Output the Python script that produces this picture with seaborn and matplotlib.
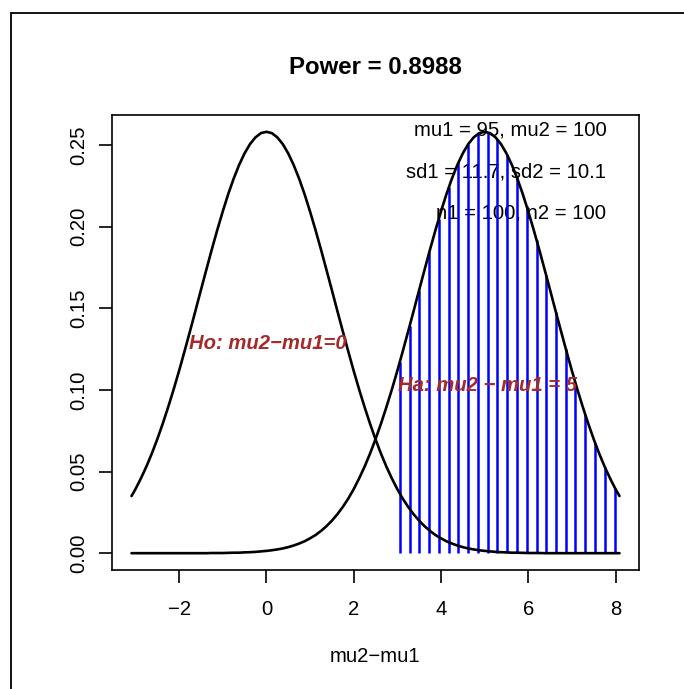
import matplotlib
matplotlib.use('Agg')
import matplotlib.pyplot as plt
import pandas as pd
import seaborn as sns
from matplotlib.patches import Rectangle

# Values: the two density curves on a 0.125 grid
x_grid = [-3.09, -3.0, -2.875, -2.75, -2.625, -2.5, -2.375, -2.25, -2.125, -2.0, -1.875, -1.75,
          -1.625, -1.5, -1.375, -1.25, -1.125, -1.0, -0.875, -0.75, -0.625, -0.5, -0.375, -0.25,
          -0.125, 0.0, 0.125, 0.25, 0.375, 0.5, 0.625, 0.75, 0.875, 1.0, 1.125, 1.25, 1.375, 1.5,
          1.625, 1.75, 1.875, 2.0, 2.125, 2.25, 2.375, 2.5, 2.625, 2.75, 2.875, 3.0, 3.125, 3.25,
          3.375, 3.5, 3.625, 3.75, 3.875, 4.0, 4.125, 4.25, 4.375, 4.5, 4.625, 4.75, 4.875, 5.0,
          5.125, 5.25, 5.375, 5.5, 5.625, 5.75, 5.875, 6.0, 6.125, 6.25, 6.375, 6.5, 6.625, 6.75,
          6.875, 7.0, 7.125, 7.25, 7.375, 7.5, 7.625, 7.75, 7.875, 8.0, 8.09]
null_density = [0.0350, 0.0392, 0.0458, 0.0530, 0.0610, 0.0698, 0.0793, 0.0895, 0.1003, 0.1117,
                0.1237, 0.1360, 0.1485, 0.1612, 0.1737, 0.1861, 0.1980, 0.2093, 0.2199, 0.2294,
                0.2378, 0.2449, 0.2506, 0.2547, 0.2573, 0.2581, 0.2573, 0.2547, 0.2506, 0.2449,
                0.2378, 0.2294, 0.2199, 0.2093, 0.1980, 0.1861, 0.1737, 0.1612, 0.1485, 0.1360,
                0.1237, 0.1117, 0.1003, 0.0895, 0.0793, 0.0698, 0.0610, 0.0530, 0.0458, 0.0392,
                0.0334, 0.0283, 0.0238, 0.0199, 0.0165, 0.0136, 0.0111, 0.0091, 0.0073, 0.0059,
                0.0047, 0.0037, 0.0029, 0.0023, 0.0018, 0.0014, 0.0011, 0.0008, 0.0006, 0.0005,
                0.0003, 0.0003, 0.0002, 0.0001, 0.0001, 0.0001, 0.0, 0.0, 0.0, 0.0,
                0.0, 0.0, 0.0, 0.0, 0.0, 0.0, 0.0, 0.0, 0.0, 0.0, 0.0]
alt_density = [0.0, 0.0, 0.0, 0.0, 0.0, 0.0, 0.0, 0.0, 0.0, 0.0,
               0.0, 0.0, 0.0, 0.0, 0.0, 0.0001, 0.0001, 0.0001, 0.0002, 0.0003,
               0.0003, 0.0005, 0.0006, 0.0008, 0.0011, 0.0014, 0.0018, 0.0023, 0.0029, 0.0037,
               0.0047, 0.0059, 0.0073, 0.0091, 0.0111, 0.0136, 0.0165, 0.0199, 0.0238, 0.0283,
               0.0334, 0.0392, 0.0458, 0.0530, 0.0610, 0.0698, 0.0793, 0.0895, 0.1003, 0.1117,
               0.1237, 0.1360, 0.1485, 0.1612, 0.1737, 0.1861, 0.1980, 0.2093, 0.2199, 0.2294,
               0.2378, 0.2449, 0.2506, 0.2547, 0.2573, 0.2581, 0.2573, 0.2547, 0.2506, 0.2449,
               0.2378, 0.2294, 0.2199, 0.2093, 0.1980, 0.1861, 0.1737, 0.1612, 0.1485, 0.1360,
               0.1237, 0.1117, 0.1003, 0.0895, 0.0793, 0.0698, 0.0610, 0.0530, 0.0458, 0.0392,
               0.0350]

# shaded power region (vertical blue lines)
power_x = [3.06, 3.28, 3.50, 3.73, 3.95, 4.18, 4.40, 4.62, 4.85, 5.07, 5.29, 5.52, 5.74, 5.96,
           6.19, 6.41, 6.63, 6.86, 7.08, 7.30, 7.53, 7.75, 7.98]
power_y = [0.1174, 0.1390, 0.1612, 0.1842, 0.2049, 0.2242, 0.2394, 0.2504, 0.2569, 0.2578,
           0.2536, 0.2439, 0.2302, 0.2128, 0.1919, 0.1702, 0.1480, 0.1251, 0.1044, 0.0853,
           0.0676, 0.0530, 0.0402]

x_ticks = [-2, 0, 2, 4, 6, 8]
x_tick_labels = ['\u22122', '0', '2', '4', '6', '8']
y_ticks = [0.00, 0.05, 0.10, 0.15, 0.20, 0.25]
y_tick_labels = ['0.00', '0.05', '0.10', '0.15', '0.20', '0.25']
info_lines = ['mu1 = 95, mu2 = 100', 'sd1 = 11.7, sd2 = 10.1', 'n1 = 100, n2 = 100']
info_y = [0.2592, 0.2334, 0.2082]

sns.set_style('white')
plt.rcParams['font.family'] = ['Liberation Sans', 'DejaVu Sans']
plt.rcParams['text.color'] = 'black'

df = pd.DataFrame({'x': x_grid, 'null': null_density, 'alt': alt_density})

fig = plt.figure(figsize=(6.84, 6.89), dpi=100)
ax = fig.add_axes([112 / 684, 1 - 570 / 689, 527 / 684, 455 / 689])

# outer frame of the device
fig.patches.append(Rectangle((11 / 684, -0.1), 1.2, 1.1 - 13 / 689, transform=fig.transFigure,
                             fill=False, edgecolor='black', linewidth=1.3))

fs = 14.6
for txt, yy in zip(info_lines, info_y):
    ax.text(7.79, yy, txt, ha='right', va='center', fontsize=fs, color='black', zorder=1)

ax.vlines(power_x, 0, power_y, colors='blue', linewidth=1.8, zorder=2)
sns.lineplot(data=df, x='x', y='null', ax=ax, color='black', linewidth=1.9, zorder=3)
sns.lineplot(data=df, x='x', y='alt', ax=ax, color='black', linewidth=1.9, zorder=3)

ax.text(0.03, 0.1284, 'Ho: mu2\u2212mu1=0', ha='center', va='center', fontsize=fs,
        color='#A52A2A', fontweight='bold', fontstyle='italic', zorder=4)
ax.text(5.07, 0.1026, 'Ha: mu2 \u2212 mu1 = 5', ha='center', va='center', fontsize=fs,
        color='#A52A2A', fontweight='bold', fontstyle='italic', zorder=4)

ax.set_xlim(-3.537, 8.537)
ax.set_ylim(-0.0103, 0.2684)
ax.set_xticks(x_ticks)
ax.set_xticklabels(x_tick_labels)
ax.set_yticks(y_ticks)
ax.set_yticklabels(y_tick_labels, rotation=90, va='center')
ax.tick_params(direction='out', length=9.4, width=1.2, labelsize=fs,
               bottom=True, left=True, colors='black')
ax.tick_params(axis='x', pad=12)
ax.tick_params(axis='y', pad=8)
for s in ax.spines.values():
    s.set_visible(True)
    s.set_linewidth(1.2)
    s.set_color('black')
ax.set_xlabel('')
ax.set_ylabel('')

fig.text(375.5 / 684, 1 - 67 / 689, 'Power = 0.8988', ha='center', va='center',
         fontsize=17.3, fontweight='bold', color='black')
fig.text(375.5 / 684, 1 - 657 / 689, 'mu2\u2212mu1', ha='center', va='center',
         fontsize=fs, color='black')

fig.savefig('out.png', dpi=100)
